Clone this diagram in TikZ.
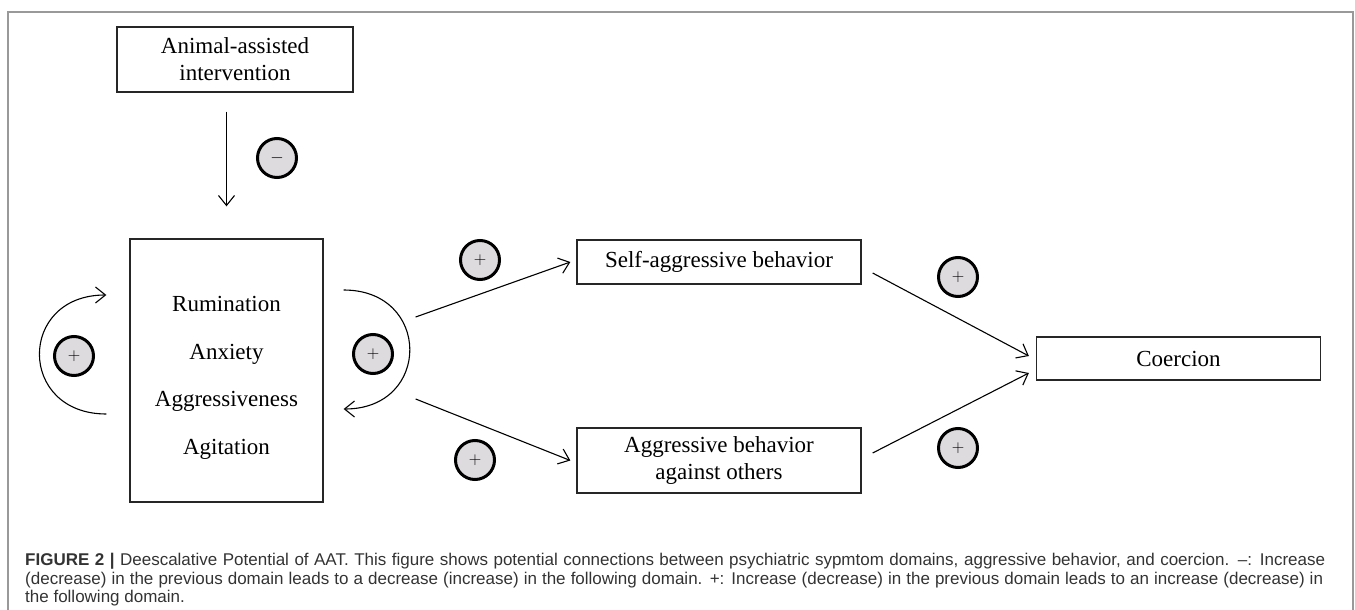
\documentclass[tikz,border=0pt]{standalone}
\usepackage{fontspec}
\usetikzlibrary{arrows.meta}
\setmainfont{Liberation Serif}
\newfontfamily\capfont{Liberation Sans}
\definecolor{badgefill}{rgb}{0.87,0.86,0.87}
\definecolor{framegray}{rgb}{0.6,0.6,0.6}
\definecolor{captext}{rgb}{0.2,0.2,0.2}

\begin{document}
\begin{tikzpicture}[x=1pt, y=1pt,
  box/.style={draw=black!85, line width=1.3pt, minimum width=284pt, inner sep=0pt, align=center, font=\fontsize{23}{27}\selectfont},
  badge/.style={circle, draw=black, line width=3pt, fill=badgefill, minimum size=39pt, inner sep=0pt, font=\fontsize{18}{18}\selectfont},
  arr/.style={line width=1.1pt, -{Straight Barb[length=10pt,width=16pt]}},
  capline/.style={anchor=base west, inner sep=0pt, text=captext, font=\capfont\fontsize{17}{18}\selectfont}]
\useasboundingbox (0,0) rectangle (1355,-610);
\draw[framegray, line width=1.3pt] (8,-615) |- (1353,-12) -- (1353,-615);

\node[box, minimum width=236pt, minimum height=65pt] (aai) at (235,-59.5) {Animal-assisted\\intervention};
\node[box, minimum width=193pt, minimum height=263pt] (symp) at (226.5,-370.5) {};
\node[align=center, font=\fontsize{23}{47.7}\selectfont] (symplist) at (226.5,-378) {Rumination\\Anxiety\\Aggressiveness\\Agitation};
\node[box, minimum height=44pt] (self) at (719,-262) {Self-aggressive behavior};
\node[box, minimum height=65pt] (other) at (719,-460.5) {Aggressive behavior\\against others};
\node[box, minimum height=43pt] (coer) at (1178.5,-358.5) {Coercion};

\draw[arr, shorten <=19pt, shorten >=32pt] (aai.south -| symp.north) -- (symp.north);
\draw[arr] ([xshift=-23pt,yshift=-43.5pt]symp.west) to[out=180,in=180,distance=89pt] ([xshift=-23pt,yshift=75.5pt]symp.west);
\draw[arr] ([xshift=20pt,yshift=80.5pt]symp.east) to[out=0,in=0,distance=88pt] ([xshift=20pt,yshift=-38.5pt]symp.east);
\draw[arr] ([xshift=92pt,yshift=53.5pt]symp.east) -- ([xshift=-6pt]self.west);
\draw[arr] ([xshift=92pt,yshift=-28.5pt]symp.east) -- ([xshift=-6pt]other.west);
\draw[arr] ([xshift=11pt,yshift=-11pt]self.east) -- ([xshift=-7pt,yshift=2.5pt]coer.west);
\draw[arr] ([xshift=11pt,yshift=7.5pt]other.east) -- ([xshift=-7pt,yshift=-14.5pt]coer.west);

\node[badge] (mneg) at (277,-158) {$-$};
\node[badge] (pleft) at (74,-356) {$+$};
\node[badge] (pright) at (373,-354) {$+$};
\node[badge] (pself) at (480,-260) {$+$};
\node[badge] (pother) at (475,-460) {$+$};
\node[badge] (pcoerA) at (958,-277) {$+$};
\node[badge] (pcoerB) at (958,-448) {$+$};

\node[capline] (capA) at (25,-565) {\makebox[1300pt][s]{{\bfseries FIGURE 2 |} Deescalative Potential of AAT. This figure shows potential connections between psychiatric sypmtom domains, aggressive behavior, and coercion. –: Increase}};
\node[capline] (capB) at (25,-584) {\makebox[1298pt][s]{(decrease) in the previous domain leads to a decrease (increase) in the following domain. +: Increase (decrease) in the previous domain leads to an increase (decrease) in}};
\node[capline] (capC) at (25,-602) {the following domain.};
\end{tikzpicture}
\end{document}
